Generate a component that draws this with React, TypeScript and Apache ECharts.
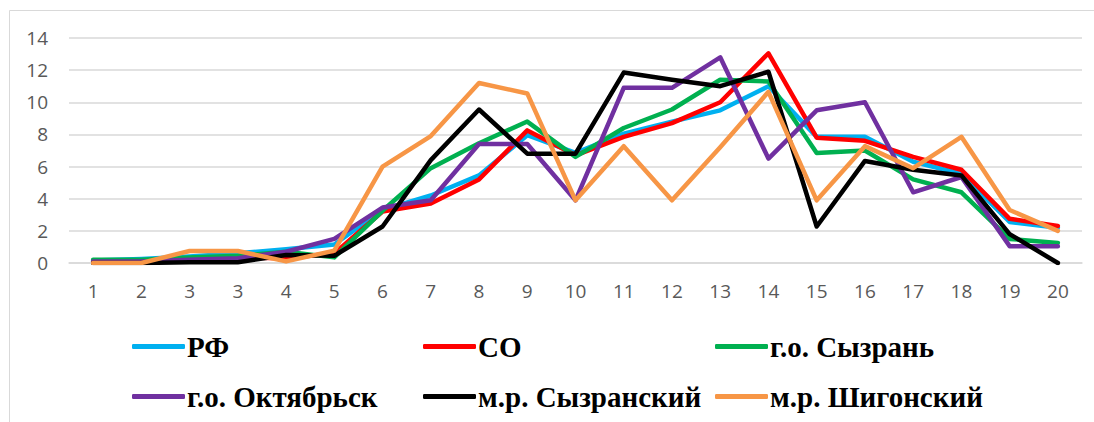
import React, { useEffect, useRef } from "react";
import * as echarts from "echarts";

const categories = ["1", "2", "3", "3", "4", "5", "6", "7", "8", "9", "10", "11", "12", "13", "14", "15", "16", "17", "18", "19", "20"];

const seriesNames = ["РФ", "СО", "г.о. Сызрань", "г.о. Октябрьск", "м.р. Сызранский", "м.р. Шигонский"];

const rf = [0.15, 0.25, 0.4, 0.6, 0.85, 1.15, 3.3, 4.2, 5.45, 7.95, 6.85, 8.05, 8.8, 9.5, 11.0, 7.85, 7.85, 6.3, 5.55, 2.55, 2.2];
const so = [0.1, 0.15, 0.3, 0.35, 0.3, 0.6, 3.2, 3.7, 5.2, 8.25, 6.7, 7.85, 8.7, 10.0, 13.05, 7.8, 7.6, 6.6, 5.8, 2.75, 2.3];
const syzran = [0.2, 0.2, 0.35, 0.45, 0.7, 0.35, 3.25, 5.9, 7.45, 8.8, 6.6, 8.4, 9.55, 11.4, 11.3, 6.85, 7.0, 5.2, 4.4, 1.5, 1.25];
const oktyabrsk = [0.1, 0.1, 0.2, 0.3, 0.7, 1.5, 3.45, 3.9, 7.4, 7.4, 3.9, 10.9, 10.9, 12.8, 6.5, 9.5, 10.0, 4.4, 5.35, 1.05, 1.05];
const syzranskiy = [0, 0, 0.05, 0.05, 0.5, 0.45, 2.27, 6.4, 9.55, 6.8, 6.8, 11.85, 11.4, 11.0, 11.9, 2.27, 6.35, 5.8, 5.45, 1.8, 0];
const shigonskiy = [0, 0, 0.75, 0.75, 0.1, 0.77, 6.0, 7.9, 11.2, 10.55, 3.9, 7.27, 3.9, 7.2, 10.65, 3.9, 7.27, 5.9, 7.85, 3.3, 2.0];

const seriesValues = [rf, so, syzran, oktyabrsk, syzranskiy, shigonskiy];
const colors = ["#00B0F0", "#FF0000", "#00B050", "#7030A0", "#000000", "#F79646"];

const legendPos = [
  { left: 127, top: 327 },
  { left: 418, top: 327 },
  { left: 710, top: 327 },
  { left: 127, top: 377 },
  { left: 418, top: 377 },
  { left: 710, top: 377 },
];

const serifFont = "Liberation Serif";

export default function App() {
  const ref = useRef<HTMLDivElement>(null);
  useEffect(() => {
    document.body.style.margin = "0";
    const chart = echarts.init(ref.current!, undefined, { renderer: "svg" });
    chart.setOption({
      animation: false,
      backgroundColor: "#ffffff",
      color: colors,
      textStyle: { fontFamily: serifFont },
      grid: { left: 69, right: 12, top: 38, bottom: 159, containLabel: false },
      graphic: [
        {
          type: "rect",
          shape: { x: 9.5, y: 10.5, width: 1100, height: 430 },
          style: { fill: "none", stroke: "#d9d9d9", lineWidth: 1 },
          silent: true,
        },
      ],
      legend: seriesNames.map((name, i) => ({
        data: [name],
        left: legendPos[i].left,
        top: legendPos[i].top,
        icon: "roundRect",
        itemWidth: 53,
        itemHeight: 5,
        itemGap: 0,
        textStyle: {
          fontFamily: serifFont,
          fontWeight: "bold",
          fontSize: 29,
          color: "#000000",
          padding: [0, 0, 0, -3],
        },
      })),
      xAxis: {
        type: "category",
        data: categories,
        boundaryGap: true,
        axisLine: { show: true, lineStyle: { color: "#d9d9d9", width: 1.5 } },
        axisTick: { show: false },
        axisLabel: {
          color: "#595959",
          fontFamily: "Open Sans",
          fontSize: 19,
          margin: 18,
          interval: 0,
        },
        splitLine: { show: false },
      },
      yAxis: {
        type: "value",
        min: 0,
        max: 14,
        interval: 2,
        axisLine: { show: false },
        axisTick: { show: false },
        axisLabel: {
          color: "#595959",
          fontFamily: "Open Sans",
          fontSize: 19,
          margin: 21,
        },
        splitLine: { lineStyle: { color: "#d9d9d9", width: 1.5 } },
      },
      series: seriesNames.map((name, i) => ({
        name,
        type: "line",
        data: seriesValues[i],
        symbol: "none",
        showSymbol: false,
        lineStyle: { width: 4.5, color: colors[i], cap: "round", join: "round" },
        itemStyle: { color: colors[i] },
        z: 2 + i,
      })),
    });
    return () => chart.dispose();
  }, []);
  return <div ref={ref} style={{ width: 1094, height: 422 }} />;
}
